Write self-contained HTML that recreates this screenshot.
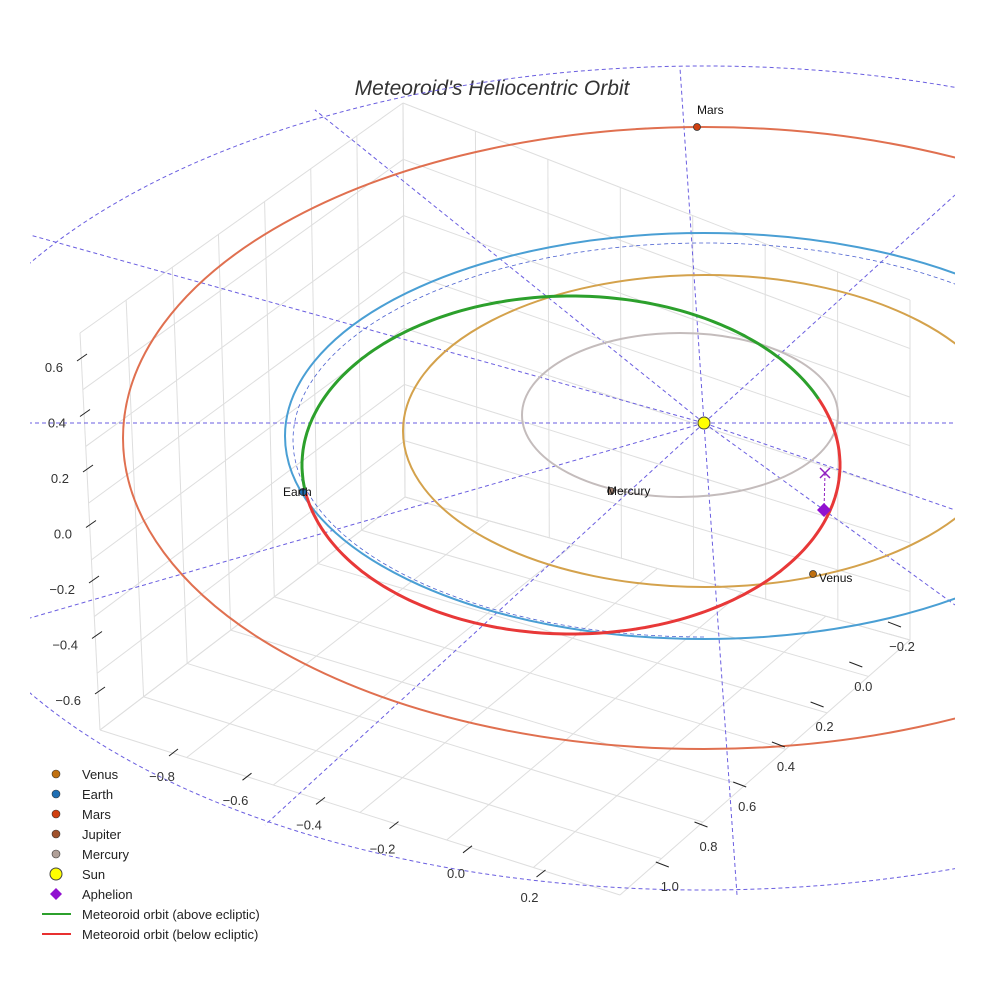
<!DOCTYPE html>
<html><head><meta charset="utf-8">
<style>
html,body{margin:0;padding:0;background:#fff;}
svg{display:block;font-family:"Liberation Sans",sans-serif;}
</style></head>
<body>
<svg id="chart" width="984" height="984" viewBox="0 0 984 984" xmlns="http://www.w3.org/2000/svg">
<defs><clipPath id="clip"><rect x="30" y="0" width="925" height="984"/></clipPath></defs>
<text x="492" y="95" text-anchor="middle" font-size="21" font-style="italic" fill="#333">Meteoroid's Heliocentric Orbit</text>
<g id="grid" stroke="#dedede" stroke-width="1" fill="none"></g>
<g id="ref" clip-path="url(#clip)" stroke="#6a5ee0" stroke-width="1" stroke-dasharray="4,3" fill="none"></g>
<g id="orbits" clip-path="url(#clip)" fill="none"></g>
<g id="marks"></g>
<g id="ticks" font-size="13" fill="#333"></g>
<g id="legend" font-size="13" fill="#222"></g>
</svg>
<script>
const NS="http://www.w3.org/2000/svg";
// ---- data ----
const planetNames=["Mercury","Venus","Earth","Mars"];
const orbitRadiusAU=[0.387,0.723,1.0,1.524];
const orbitColors=["#c4bcbc","#d4a24c","#4a9fd4","#e07050"];
const zTicks=["0.6","0.4","0.2","0.0","−0.2","−0.4","−0.6"];
const xTicks=["−0.8","−0.6","−0.4","−0.2","0.0","0.2"];
const yTicks=["−0.2","0.0","0.2","0.4","0.6","0.8","1.0"];
const meteoroidSplitDeg=[171,337];
const legendLabels=["Venus","Earth","Mars","Jupiter","Mercury","Sun","Aphelion","Meteoroid orbit (above ecliptic)","Meteoroid orbit (below ecliptic)"];
// ---- projection (screen ellipse approximations) ----
const sun={x:704,y:423};
const orbitGeom={0.387:[680,415,158,82],0.723:[705,431,302,156],1.0:[704,436,419,203],1.524:[704,438,581,311]};
function ell(g,t){return [g[0]+g[2]*Math.cos(t),g[1]+g[3]*Math.sin(t)];}
function mk(tag,attrs,parent){const e=document.createElementNS(NS,tag);for(const k in attrs)e.setAttribute(k,attrs[k]);parent.appendChild(e);return e;}
function arcPath(g,a0,a1){let d="";for(let a=a0;a<=a1+0.01;a+=1){const p=ell(g,a*Math.PI/180);d+=(d?"L":"M")+p[0].toFixed(1)+","+p[1].toFixed(1);}return d;}
// grid
const grid=document.getElementById("grid");
const L0=[80,333],L1=[403,103],B0=[100,730],B1=[405,497];
for(let i=0;i<=7;i++){const f=i/7;const tx=L0[0]+(L1[0]-L0[0])*f,ty=L0[1]+(L1[1]-L0[1])*f,bx=B0[0]+(B1[0]-B0[0])*f,by=B0[1]+(B1[1]-B0[1])*f;mk("line",{x1:tx,y1:ty,x2:bx,y2:by},grid);}
for(let i=0;i<=7;i++){const f=i/7;mk("line",{x1:L0[0]+(B0[0]-L0[0])*f,y1:L0[1]+(B0[1]-L0[1])*f,x2:L1[0]+(B1[0]-L1[0])*f,y2:L1[1]+(B1[1]-L1[1])*f},grid);}
const R1=[910,300],R2=[910,640];
for(let i=0;i<=7;i++){const f=i/7;mk("line",{x1:L1[0]+(R1[0]-L1[0])*f,y1:L1[1]+(R1[1]-L1[1])*f,x2:B1[0]+(R2[0]-B1[0])*f,y2:B1[1]+(R2[1]-B1[1])*f},grid);}
for(let i=0;i<=7;i++){const f=i/7;mk("line",{x1:L1[0]+(B1[0]-L1[0])*f,y1:L1[1]+(B1[1]-L1[1])*f,x2:R1[0]+(R2[0]-R1[0])*f,y2:R1[1]+(R2[1]-R1[1])*f},grid);}
const F0=[100,730],F1=[620,895],F2=[910,640];
for(let i=0;i<=6;i++){const f=i/6;mk("line",{x1:F0[0]+(F1[0]-F0[0])*f,y1:F0[1]+(F1[1]-F0[1])*f,x2:B1[0]+(F2[0]-B1[0])*f,y2:B1[1]+(F2[1]-B1[1])*f},grid);}
for(let i=0;i<=7;i++){const f=i/7;mk("line",{x1:F0[0]+(B1[0]-F0[0])*f,y1:F0[1]+(B1[1]-F0[1])*f,x2:F1[0]+(F2[0]-F1[0])*f,y2:F1[1]+(F2[1]-F1[1])*f},grid);}
// reference lines
const ref=document.getElementById("ref");
mk("ellipse",{cx:704,cy:478,rx:790,ry:412},ref);
const spokes=[[30,235],[315,110],[680,68],[955,195],[955,423],[955,510],[955,605],[737,895],[265,825],[30,618],[30,423]];
spokes.forEach(s=>mk("line",{x1:sun.x,y1:sun.y,x2:s[0],y2:s[1]},ref));
mk("path",{d:arcPath([704,440,411,197],90,330),stroke:"#4a60d0","stroke-width":0.8},ref);
// orbits
const og=document.getElementById("orbits");
orbitRadiusAU.forEach((r,i)=>{const g=orbitGeom[r];const e=mk("ellipse",{cx:g[0],cy:g[1],rx:g[2],ry:g[3],stroke:orbitColors[i],"stroke-width":2},og);

});
const mg=[571,465,269,169];
const gp=mk("path",{d:arcPath(mg,meteoroidSplitDeg[0],meteoroidSplitDeg[1]),stroke:"#2ca02c","stroke-width":3},og);


const rp=mk("path",{d:arcPath(mg,meteoroidSplitDeg[1],meteoroidSplitDeg[0]+360),stroke:"#e83838","stroke-width":3},og);


// markers
const marks=document.getElementById("marks");
const pts=[["earth",303,492,"#1f6fb4","Earth",283,496],["mars",697,127,"#d04010","Mars",697,114],["venus",813,574,"#c07010","Venus",819,582],["mercury",611,491,"#a08070","Mercury",607,495]];
pts.forEach(p=>{const c=mk("circle",{cx:p[1],cy:p[2],r:3.5,fill:p[3],stroke:"#333","stroke-width":0.8},marks);


const t=mk("text",{x:p[5],y:p[6],"font-size":12,fill:"#111"},marks);t.textContent=p[4];

});
const sc=mk("circle",{cx:sun.x,cy:sun.y,r:6,fill:"#ffff00",stroke:"#444","stroke-width":1},marks);


mk("line",{x1:825,y1:473,x2:824,y2:510,stroke:"#9020c0","stroke-dasharray":"3,2"},marks);
const ax=mk("path",{d:"M820,468L830,478M830,468L820,478",stroke:"#9020c0","stroke-width":1.5},marks);


const ad=mk("path",{d:"M824,503L831,510L824,517L817,510Z",fill:"#9010d0"},marks);


// ticks
const tk=document.getElementById("ticks");
zTicks.forEach((s,i)=>{const y=367+i*55.5;const x=53+i*3;const t=mk("text",{x:x+10,y:y+5,"text-anchor":"end"},tk);t.textContent=s;


mk("line",{x1:x+24,y1:y-6,x2:x+34,y2:y-13,stroke:"#222"},tk);});
xTicks.forEach((s,i)=>{const x=162+i*73.5,y=776+i*24.2;const t=mk("text",{x:x,y:y+5,"text-anchor":"middle"},tk);t.textContent=s;


mk("line",{x1:x+7,y1:y-20,x2:x+16,y2:y-27,stroke:"#222"},tk);});
yTicks.forEach((s,i)=>{const x=902-i*38.7,y=646+i*40;const t=mk("text",{x:x,y:y+5,"text-anchor":"middle"},tk);t.textContent=s;


mk("line",{x1:x-14,y1:y-24,x2:x-1,y2:y-19,stroke:"#222"},tk);});
// legend
const lg=document.getElementById("legend");
const legSym=[["c","#c07010"],["c","#1f6fb4"],["c","#d04010"],["c","#a0522d"],["c","#b0a098"],["sun","#ffff00"],["d","#9010d0"],["l","#2ca02c"],["l","#e83030"]];
legendLabels.forEach((s,i)=>{const y=774+i*20;
const g=mk("g",{},lg);


const k=legSym[i];
if(k[0]=="c")mk("circle",{cx:56,cy:y,r:4,fill:k[1],stroke:"#333","stroke-width":0.6},g);
else if(k[0]=="sun")mk("circle",{cx:56,cy:y,r:6,fill:k[1],stroke:"#444"},g);
else if(k[0]=="d")mk("path",{d:`M56,${y-6}L62,${y}L56,${y+6}L50,${y}Z`,fill:k[1]},g);
else mk("line",{x1:42,y1:y,x2:71,y2:y,stroke:k[1],"stroke-width":2},g);
const t=mk("text",{x:82,y:y+5},g);t.textContent=s;});
</script>
</body></html>
